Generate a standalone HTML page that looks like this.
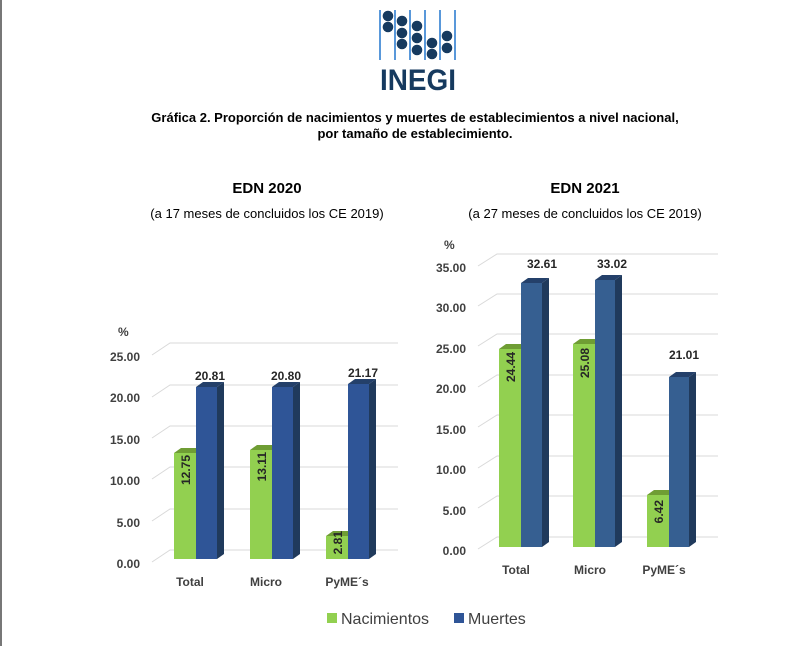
<!DOCTYPE html>
<html><head><meta charset="utf-8"><style>
body{margin:0;background:#fff;}
svg{display:block;font-family:"Liberation Sans",sans-serif;}
</style></head><body>
<svg width="795" height="646" viewBox="0 0 795 646">
<rect x="0" y="0" width="2" height="646" fill="#777"/>
<!-- logo -->
<g stroke="#2f7fd0" stroke-width="1.6">
<line x1="380" y1="10" x2="380" y2="60"/><line x1="395" y1="10" x2="395" y2="60"/><line x1="410" y1="10" x2="410" y2="60"/><line x1="425" y1="10" x2="425" y2="60"/><line x1="440" y1="10" x2="440" y2="60"/><line x1="455" y1="10" x2="455" y2="60"/>
</g>
<g fill="#163a5f">
<circle cx="388" cy="16" r="5.3"/><circle cx="388" cy="27" r="5.3"/>
<circle cx="402" cy="21" r="5.3"/><circle cx="402" cy="33" r="5.3"/><circle cx="402" cy="44" r="5.3"/>
<circle cx="417" cy="26" r="5.3"/><circle cx="417" cy="38" r="5.3"/><circle cx="417" cy="50" r="5.3"/>
<circle cx="432" cy="43" r="5.3"/><circle cx="432" cy="54" r="5.3"/>
<circle cx="447" cy="36" r="5.3"/><circle cx="447" cy="48" r="5.3"/>
</g>
<text x="418" y="90" text-anchor="middle" font-size="30" font-weight="bold" fill="#163a5f" textLength="76" lengthAdjust="spacingAndGlyphs">INEGI</text>
<text x="415" y="122" text-anchor="middle" font-size="13" font-weight="bold" fill="#000">Gráfica 2. Proporción de nacimientos y muertes de establecimientos a nivel nacional,</text>
<text x="415" y="138" text-anchor="middle" font-size="13" font-weight="bold" fill="#000">por tamaño de establecimiento.</text>
<text x="267" y="193" text-anchor="middle" font-size="15" font-weight="bold" fill="#000">EDN 2020</text>
<text x="267" y="218" text-anchor="middle" font-size="13" fill="#000">(a 17 meses de concluidos los CE 2019)</text>
<text x="585" y="193" text-anchor="middle" font-size="15" font-weight="bold" fill="#000">EDN 2021</text>
<text x="585" y="218" text-anchor="middle" font-size="13" fill="#000">(a 27 meses de concluidos los CE 2019)</text>

<!-- left chart -->
<g stroke="#d9d9d9" stroke-width="1" fill="none">
<polyline points="152,562 170,550 398,550"/><polyline points="152,521 170,509 398,509"/><polyline points="152,479 170,467 398,467"/><polyline points="152,438 170,426 398,426"/><polyline points="152,397 170,385 398,385"/><polyline points="152,355 170,343 398,343"/>
</g>
<g font-size="12" font-weight="bold" fill="#404040" text-anchor="end">
<text x="140" y="568">0.00</text><text x="140" y="527">5.00</text><text x="140" y="485">10.00</text><text x="140" y="444">15.00</text><text x="140" y="402">20.00</text><text x="140" y="361">25.00</text>
</g>
<text x="118" y="336" font-size="12" font-weight="bold" fill="#404040">%</text>
<g font-size="12" font-weight="bold" fill="#404040" text-anchor="middle">
<text x="190" y="586">Total</text><text x="266" y="586">Micro</text><text x="347" y="586">PyME´s</text>
</g>

<!-- right chart -->
<g stroke="#d9d9d9" stroke-width="1" fill="none">
<polyline points="478,549 497,537 718,537"/><polyline points="478,508 497,496 718,496"/><polyline points="478,468 497,456 718,456"/><polyline points="478,427 497,415 718,415"/><polyline points="478,387 497,375 718,375"/><polyline points="478,346 497,334 718,334"/><polyline points="478,306 497,294 718,294"/><polyline points="478,266 497,254 718,254"/>
</g>
<g font-size="12" font-weight="bold" fill="#404040" text-anchor="end">
<text x="466" y="555">0.00</text><text x="466" y="515">5.00</text><text x="466" y="474">10.00</text><text x="466" y="434">15.00</text><text x="466" y="393">20.00</text><text x="466" y="353">25.00</text><text x="466" y="312">30.00</text><text x="466" y="272">35.00</text>
</g>
<text x="444" y="249" font-size="12" font-weight="bold" fill="#404040">%</text>
<g font-size="12" font-weight="bold" fill="#404040" text-anchor="middle">
<text x="516" y="574">Total</text><text x="590" y="574">Micro</text><text x="664" y="574">PyME´s</text>
</g>

<g>
<polygon points="174,453 196,453 203,448 181,448" fill="#6f9d34"/><rect x="174" y="453" width="22" height="106" fill="#92d050"/>
<polygon points="217,387 224,382 224,554 217,559" fill="#203a5c"/><polygon points="196,387 217,387 224,382 203,382" fill="#24406a"/><rect x="196" y="387" width="21" height="172" fill="#2f5597"/>
<polygon points="250,450 272,450 279,445 257,445" fill="#6f9d34"/><rect x="250" y="450" width="22" height="109" fill="#92d050"/>
<polygon points="293,387 300,382 300,554 293,559" fill="#203a5c"/><polygon points="272,387 293,387 300,382 279,382" fill="#24406a"/><rect x="272" y="387" width="21" height="172" fill="#2f5597"/>
<polygon points="326,536 348,536 355,531 333,531" fill="#6f9d34"/><rect x="326" y="536" width="22" height="23" fill="#92d050"/>
<polygon points="369,384 376,379 376,554 369,559" fill="#203a5c"/><polygon points="348,384 369,384 376,379 355,379" fill="#24406a"/><rect x="348" y="384" width="21" height="175" fill="#2f5597"/>

<polygon points="499,349 521,349 528,344 506,344" fill="#6f9d34"/><rect x="499" y="349" width="22" height="198" fill="#92d050"/>
<polygon points="542,283 549,278 549,542 542,547" fill="#203a5c"/><polygon points="521,283 542,283 549,278 528,278" fill="#24406a"/><rect x="521" y="283" width="21" height="264" fill="#365f91"/>
<polygon points="573,344 595,344 602,339 580,339" fill="#6f9d34"/><rect x="573" y="344" width="22" height="203" fill="#92d050"/>
<polygon points="615,280 622,275 622,542 615,547" fill="#203a5c"/><polygon points="595,280 615,280 622,275 602,275" fill="#24406a"/><rect x="595" y="280" width="20" height="267" fill="#365f91"/>
<polygon points="647,495 669,495 676,490 654,490" fill="#6f9d34"/><rect x="647" y="495" width="22" height="52" fill="#92d050"/>
<polygon points="689,377 696,372 696,542 689,547" fill="#203a5c"/><polygon points="669,377 689,377 696,372 676,372" fill="#24406a"/><rect x="669" y="377" width="20" height="170" fill="#365f91"/>
</g>

<g font-size="12" font-weight="bold" fill="#262626" text-anchor="middle">
<text x="210" y="380">20.81</text><text x="286" y="380">20.80</text><text x="363" y="377">21.17</text>
<text x="542" y="268">32.61</text><text x="612" y="268">33.02</text><text x="684" y="359">21.01</text>
</g>
<g font-size="12" font-weight="bold" fill="#262626" text-anchor="end">
<text transform="translate(190,455) rotate(-90)">12.75</text>
<text transform="translate(266,452) rotate(-90)">13.11</text>
<text transform="translate(342,531) rotate(-90)">2.81</text>
<text transform="translate(515,352) rotate(-90)">24.44</text>
<text transform="translate(589,348) rotate(-90)">25.08</text>
<text transform="translate(663,500) rotate(-90)">6.42</text>
</g>

<rect x="327" y="613" width="10" height="10" fill="#92d050"/>
<text x="341" y="624" font-size="16" fill="#404040">Nacimientos</text>
<rect x="454" y="613" width="10" height="10" fill="#2f5597"/>
<text x="468" y="624" font-size="16" fill="#404040">Muertes</text>
</svg>
</body></html>
